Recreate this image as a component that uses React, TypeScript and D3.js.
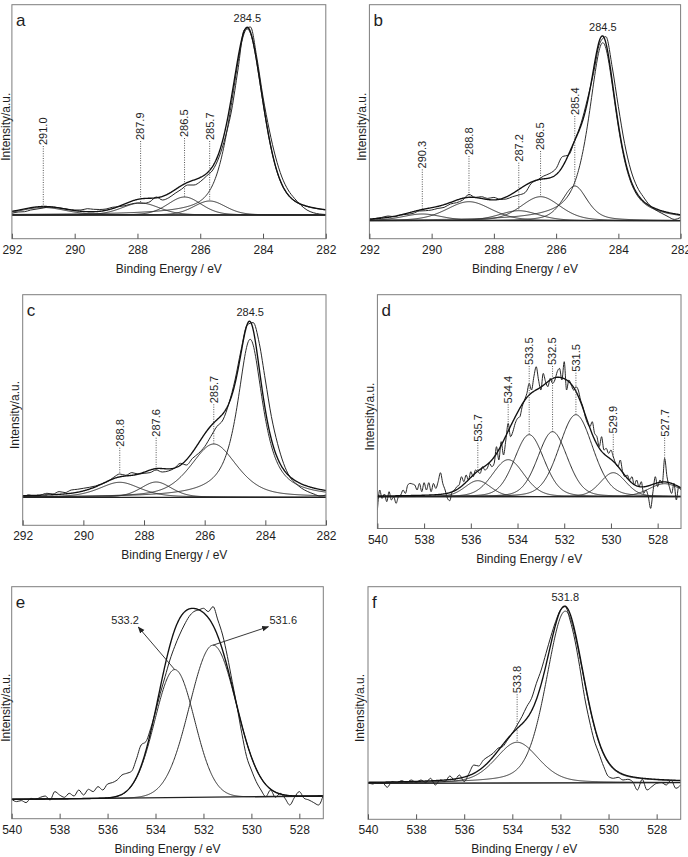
import React, { useEffect, useRef } from 'react';
import * as d3 from 'd3';

// C 1s, sample a: fitted peaks (eV, height, FWHM, Lorentzian fraction)
const aCenters = [284.5, 285.7, 286.5, 287.9, 291.0]
const aHeights = [186, 14, 18, 12, 7.5]
const aWidths = [1.2, 1.2, 1.25, 1.4, 1.7]
const aMixes = [0.5, 0.2, 0.2, 0.2, 0.2]
// measured counts, 292 -> 282 eV in 0.2 eV steps
const aRaw = [
  1.7, 3, 3.3, 5, 6, 7, 8, 7.7, 6.7, 5.7,
  5, 5, 6.3, 5.7, 5.5, 6, 7.7, 8.3, 9.3, 11,
  12, 11.7, 13.3, 18, 15, 17.3, 21.7, 25.7, 30, 30,
  33.3, 39, 45, 58, 78, 105, 145, 185, 188, 158,
  118, 85, 58, 38, 25, 16.7, 10, 5, 2.3, 1,
  0.5,
]

// C 1s, sample b
const bCenters = [284.5, 285.4, 286.5, 287.2, 288.8, 290.3]
const bHeights = [178, 34.7, 24, 10, 19, 6.7]
const bWidths = [1.05, 0.95, 1.5, 1.5, 1.7, 1.5]
const bMixes = [0.7, 0.5, 0.3, 0.3, 0.3, 0.3]
const bRaw = [
  0.7, 2.3, 3.3, 4.7, 4, 5.7, 6.3, 7.3, 9.7, 10,
  10.7, 12.3, 13.3, 16.7, 18, 20.7, 26.3, 23.3, 24, 22.3,
  23.3, 21.3, 21.7, 24, 25.7, 28, 37.3, 40.7, 44.7, 47.3,
  52.3, 64, 65.7, 80.7, 97.3, 120.7, 147.3, 177.3, 184, 154,
  114, 77.3, 50.7, 34, 24, 15.7, 10.7, 7.3, 4, 1.3,
  3.3,
]

// C 1s, sample c
const cCenters = [284.5, 285.7, 287.6, 288.8]
const cHeights = [158, 53.3, 15.3, 15]
const cWidths = [1.0, 1.8, 1.2, 1.6]
const cMixes = [0.85, 0.5, 0.3, 0.5]
const cRaw = [
  0, 2.3, 0.7, 2.3, 4, 3.3, 5.7, 4.7, 7.3, 8,
  9, 10, 11.3, 13.3, 15.7, 20, 23.3, 22, 24.7, 23.3,
  24, 24.7, 27.3, 25.3, 26.3, 29, 34, 32.3, 39, 44,
  50.7, 60.7, 70.7, 77.3, 94, 117.3, 147.3, 172.3, 174.7, 154,
  117.3, 80.7, 54, 34, 20.7, 14, 9, 5.7, 3.3, 1.3,
  2.3,
]

// O 1s, sample d; counts 540 -> 527 eV in 0.1 eV steps
const dCenters = [535.7, 534.4, 533.5, 532.5, 531.5, 529.9, 527.7]
const dHeights = [16, 37, 62, 65, 82, 24, 13]
const dWidths = [1.3, 1.6, 1.5, 1.5, 1.7, 1.3, 1.6]
const dMixes = [0.2, 0.2, 0.2, 0.2, 0.2, 0.2, 0.2]
const dRaw = [
  -13.3, 6.7, -1.7, 2.7, -5, 5, -3.3, 0, -6.7, 0,
  1.7, 6.7, 3.3, 11.7, 13.3, 12.7, 11.7, 6.7, 13.3, 5,
  14, 6.7, 14, 5, 13.3, 8.3, 15, 24, 13.3, 6.7,
  -1.7, -4, 5, 6.7, 10, 11.7, 20, 15, 21.7, 16.7,
  25, 20, 26.7, 25, 23.3, 30, 26.7, 28.3, 33.3, 30,
  33.3, 50, 36.7, 55, 41.7, 56.7, 73.3, 60, 65, 73.3,
  78.3, 80, 90, 96.7, 103.3, 113.3, 106.7, 120, 130, 116.7,
  106.7, 123.3, 115, 110, 118.3, 113.3, 116.7, 125, 128.3, 116.7,
  135, 106.7, 116.7, 111.7, 106.7, 110, 106.7, 96.7, 90, 80,
  73.3, 70, 75, 63.3, 60, 50, 60, 46.7, 48.3, 43.3,
  46.7, 40, 33.3, 30, 36.7, 25, 20, 21.7, 16.7, 20,
  11.7, 16.7, 10, 15, 3.3, 6.7, 0, -11.7, 5, 20,
  10, 16.7, 13.3, 38.3, 20, 10, 3.3, 13.3, -3.3, 10,
  6.7,
]

// O 1s, sample e; counts 540 -> 527 eV in 0.2 eV steps
const eCenters = [533.2, 531.6]
const eHeights = [128, 152]
const eWidths = [1.95, 2.3]
const eMixes = [0, 0]
const eBackground = [0, 3.3]
const eRaw = [
  0, -2.3, -1.3, -3.3, 1, 0, 2, 3.3, -0.7, 7.7,
  4.3, 2, 6, 3.3, 9.3, 4.3, 10, 7.7, 12.7, 9.3,
  15.3, 16.7, 19.3, 24.3, 26, 28, 40, 54.3, 57.7, 71,
  87.7, 106, 122.7, 139.3, 152.7, 164.3, 174.3, 182.7, 187.7, 189.3,
  191, 187.7, 192.7, 179.3, 164.3, 142.7, 117.7, 92.7, 66, 42.7,
  29.3, 17.7, 9.3, 2.7, 9.3, 2, 6, 1, -5.7, 2,
  7.7, 1, -0.7, -3.3, -5.7, 4.3,
]

// O 1s, sample f
const fCenters = [531.8, 533.8]
const fHeights = [171.7, 40.7]
const fWidths = [1.85, 2.1]
const fMixes = [0.3, 0.3]
const fBackground = [0, 0.7]
const fRaw = [
  0.7, -0.7, 0.7, 0.7, -4, 1.7, 0.7, 2.7, 0.7, 3.3,
  0.7, 3.3, 0.7, 5, -1.7, 3.3, 1.7, 7.3, 3.3, 8.3,
  1.7, 10, 18.3, 17.3, 23.3, 26.7, 30, 35, 36.7, 43.3,
  50, 58.3, 66.7, 76.7, 85, 100, 113.3, 130, 146.7, 161.7,
  173.3, 176.7, 163.3, 143.3, 116.7, 86.7, 63.3, 43.3, 30, 16.7,
  6.7, 5, 6, 3.3, 4, 1.7, -6.7, 4, -6.7, -3.3,
  0, 0.7, -1.7, 3.3, -5, -1.7,
]

const cTicks = [292, 290, 288, 286, 284, 282]
const oTicks = [540, 538, 536, 534, 532, 530, 528]

type Leader = { value: number; textAt: number; to: 'peak' | 'fit' | 'raw' }
type Arrow = { value: number; tipE: number; tipH: number; labelE: number; labelH: number }

interface PanelProps {
  letter: string
  left: number
  top: number
  right: number
  bottom: number
  xDomain: [number, number]
  yDomain: [number, number]
  ticks: number[]
  centers: number[]
  heights: number[]
  widths: number[]
  mixes: number[]
  background: number[]
  rawStart: number
  rawStep: number
  raw: number[]
  topLabel?: number
  leaders?: Leader[]
  arrows?: Arrow[]
}

const FONT = "'Liberation Sans', Arial, Helvetica, sans-serif"
const INK = '#1e1e1e'

// pseudo-Voigt line shape
const voigt = (e: number, c: number, h: number, w: number, eta: number) => {
  const r = (e - c) / w
  return h * (eta / (1 + 4 * r * r) + (1 - eta) * Math.exp(-4 * Math.LN2 * r * r))
}

const draw = (g: d3.Selection<SVGGElement, unknown, null, undefined>, p: PanelProps) => {
  g.selectAll('*').remove()

  const x = d3.scaleLinear().domain(p.xDomain).range([p.left, p.right])
  const y = d3.scaleLinear().domain(p.yDomain).range([p.bottom, p.top])

  const bg = (e: number) =>
    p.background[0] + ((p.background[1] - p.background[0]) * (e - p.xDomain[0])) / (p.xDomain[1] - p.xDomain[0])
  const comp = (i: number, e: number) => voigt(e, p.centers[i], p.heights[i], p.widths[i], p.mixes[i])
  const fit = (e: number) => bg(e) + d3.sum(p.centers, (_, i) => comp(i, e))

  const grid = d3.range(p.xDomain[0], p.xDomain[1] + 0.001, -0.02).concat([p.xDomain[1]])
  const rawPts = p.raw.map((v, i) => [p.rawStart - i * p.rawStep, v] as [number, number])

  const straight = d3.line<[number, number]>().x((d) => x(d[0])).y((d) => y(d[1]))
  const smooth = d3
    .line<[number, number]>()
    .x((d) => x(d[0]))
    .y((d) => y(d[1]))
    .curve(d3.curveMonotoneX)

  const clipId = `clip-${p.letter}`
  g.append('clipPath')
    .attr('id', clipId)
    .append('rect')
    .attr('x', p.left)
    .attr('y', p.top)
    .attr('width', p.right - p.left)
    .attr('height', p.bottom - p.top)

  const plot = g.append('g').attr('clip-path', `url(#${clipId})`).attr('fill', 'none')

  // fitted components
  p.centers.forEach((_, i) => {
    plot
      .append('path')
      .datum(grid.map((e) => [e, bg(e) + comp(i, e)] as [number, number]))
      .attr('d', straight)
      .attr('stroke', '#2e2e2e')
      .attr('stroke-width', 1)
  })

  // background line
  plot
    .append('path')
    .datum(p.xDomain.map((e) => [e, bg(e)] as [number, number]))
    .attr('d', straight)
    .attr('stroke', '#222')
    .attr('stroke-width', 1.3)

  // measured spectrum
  plot
    .append('path')
    .datum(rawPts)
    .attr('d', smooth)
    .attr('stroke', '#262626')
    .attr('stroke-width', 1)

  // envelope of the fit
  plot
    .append('path')
    .datum(grid.map((e) => [e, fit(e)] as [number, number]))
    .attr('d', straight)
    .attr('stroke', '#111')
    .attr('stroke-width', 1.35)

  // frame
  g.append('rect')
    .attr('x', p.left)
    .attr('y', p.top)
    .attr('width', p.right - p.left)
    .attr('height', p.bottom - p.top)
    .attr('fill', 'none')
    .attr('stroke', '#7d7d7d')
    .attr('stroke-width', 1)

  // x axis, ticks pointing inward
  const axis = g
    .append('g')
    .attr('transform', `translate(0,${p.bottom})`)
    .call(d3.axisBottom(x).tickValues(p.ticks).tickFormat(d3.format('d')).tickSizeInner(-5).tickSizeOuter(0).tickPadding(6.5))
  axis.select('.domain').remove()
  axis.attr('font-family', FONT).attr('font-size', 12).attr('color', '#555')
  axis.selectAll('text').attr('fill', INK)

  g.append('text')
    .attr('x', (p.left + p.right) / 2)
    .attr('y', p.bottom + 34)
    .attr('text-anchor', 'middle')
    .attr('font-size', 12)
    .attr('fill', INK)
    .text('Binding Energy / eV')

  g.append('text')
    .attr('transform', `translate(${Math.max(p.left - 8, 5.5)},${(p.top + p.bottom) / 2 + 5}) rotate(-90)`)
    .attr('text-anchor', 'middle')
    .attr('dy', '0.35em')
    .attr('font-size', 12)
    .attr('fill', INK)
    .text('Intensity/a.u.')

  g.append('text')
    .attr('x', p.left + 4)
    .attr('y', p.top + 21)
    .attr('font-size', 17)
    .attr('fill', INK)
    .text(p.letter)

  if (p.topLabel !== undefined) {
    const peakY = d3.max(grid, fit) as number
    g.append('text')
      .attr('x', x(p.topLabel))
      .attr('y', y(peakY) - 5)
      .attr('text-anchor', 'middle')
      .attr('font-size', 11)
      .attr('fill', INK)
      .text(p.topLabel.toFixed(1))
  }

  // rotated labels with dotted leaders
  ;(p.leaders || []).forEach((l) => {
    let tip = fit(l.value)
    if (l.to === 'peak') {
      const i = p.centers.indexOf(l.value)
      if (i >= 0) tip = bg(l.value) + comp(i, l.value)
    } else if (l.to === 'raw') {
      tip = p.raw[Math.round((p.rawStart - l.value) / p.rawStep)]
    }
    const xx = x(l.value)
    g.append('line')
      .attr('x1', xx)
      .attr('x2', xx)
      .attr('y1', y(l.textAt) + 1)
      .attr('y2', y(tip))
      .attr('stroke', '#444')
      .attr('stroke-width', 0.9)
      .attr('stroke-dasharray', '1,1.4')
    g.append('text')
      .attr('transform', `translate(${xx},${y(l.textAt)}) rotate(-90)`)
      .attr('dy', '0.35em')
      .attr('font-size', 11)
      .attr('fill', INK)
      .text(l.value.toFixed(1))
  })

  // arrows from component maxima to their labels
  ;(p.arrows || []).forEach((a) => {
    const i = p.centers.indexOf(a.value)
    g.append('line')
      .attr('x1', x(a.value))
      .attr('y1', y(bg(a.value) + comp(i, a.value)))
      .attr('x2', x(a.tipE))
      .attr('y2', y(a.tipH))
      .attr('stroke', '#222')
      .attr('stroke-width', 0.9)
      .attr('marker-end', 'url(#arrowHead)')
    g.append('text')
      .attr('x', x(a.labelE))
      .attr('y', y(a.labelH))
      .attr('text-anchor', 'middle')
      .attr('font-size', 11)
      .attr('fill', INK)
      .text(a.value.toFixed(1))
  })
}

const Panel = (props: PanelProps) => {
  const ref = useRef<SVGGElement>(null)
  useEffect(() => {
    if (ref.current) draw(d3.select(ref.current), props)
  })
  return <g ref={ref} />
}

const panels: PanelProps[] = [
  {
    letter: 'a', left: 11.9, top: 4.7, right: 325.8, bottom: 238.7,
    xDomain: [292, 282], yDomain: [-23.7, 210.3], ticks: cTicks,
    centers: aCenters, heights: aHeights, widths: aWidths, mixes: aMixes, background: [0, 0],
    rawStart: 292, rawStep: 0.2, raw: aRaw,
    topLabel: 284.5,
    leaders: [
      { value: 291.0, textAt: 70, to: 'peak' },
      { value: 287.9, textAt: 75, to: 'peak' },
      { value: 286.5, textAt: 78, to: 'peak' },
      { value: 285.7, textAt: 75, to: 'peak' },
    ],
  },
  {
    letter: 'b', left: 369.4, top: 4.7, right: 680.6, bottom: 238.7,
    xDomain: [292, 282], yDomain: [-18, 216], ticks: cTicks,
    centers: bCenters, heights: bHeights, widths: bWidths, mixes: bMixes, background: [0, 0],
    rawStart: 292, rawStep: 0.2, raw: bRaw,
    topLabel: 284.5,
    leaders: [
      { value: 290.3, textAt: 52.3, to: 'fit' },
      { value: 288.8, textAt: 65.7, to: 'fit' },
      { value: 287.2, textAt: 59, to: 'peak' },
      { value: 286.5, textAt: 70.7, to: 'peak' },
      { value: 285.4, textAt: 105.7, to: 'peak' },
    ],
  },
  {
    letter: 'c', left: 22.7, top: 294.7, right: 326, bottom: 525.3,
    xDomain: [292, 282], yDomain: [-28, 202.6], ticks: cTicks,
    centers: cCenters, heights: cHeights, widths: cWidths, mixes: cMixes, background: [0, 0],
    rawStart: 292, rawStep: 0.2, raw: cRaw,
    topLabel: 284.5,
    leaders: [
      { value: 288.8, textAt: 50.6, to: 'raw' },
      { value: 287.6, textAt: 60.6, to: 'raw' },
      { value: 285.7, textAt: 94, to: 'peak' },
    ],
  },
  {
    letter: 'd', left: 377.4, top: 294.7, right: 681, bottom: 528.5,
    xDomain: [540, 527], yDomain: [-31.8, 202], ticks: oTicks,
    centers: dCenters, heights: dHeights, widths: dWidths, mixes: dMixes, background: [0, 0],
    rawStart: 540, rawStep: 0.1, raw: dRaw,
    leaders: [
      { value: 535.7, textAt: 55, to: 'raw' },
      { value: 534.4, textAt: 93.3, to: 'raw' },
      { value: 533.5, textAt: 131.7, to: 'peak' },
      { value: 532.5, textAt: 131.7, to: 'peak' },
      { value: 531.5, textAt: 125, to: 'peak' },
      { value: 529.9, textAt: 63.3, to: 'raw' },
      { value: 527.7, textAt: 60, to: 'raw' },
    ],
  },
  {
    letter: 'e', left: 11.7, top: 586.7, right: 323.3, bottom: 818.7,
    xDomain: [540, 527], yDomain: [-19.4, 212.6], ticks: oTicks,
    centers: eCenters, heights: eHeights, widths: eWidths, mixes: eMixes, background: eBackground,
    rawStart: 540, rawStep: 0.2, raw: eRaw,
    arrows: [
      { value: 533.2, tipE: 534.72, tipH: 172.3, labelE: 535.27, labelH: 175.3 },
      { value: 531.6, tipE: 529.29, tipH: 172.6, labelE: 528.67, labelH: 175.3 },
    ],
  },
  {
    letter: 'f', left: 368, top: 586.7, right: 680.7, bottom: 819.3,
    xDomain: [540, 527], yDomain: [-36, 196.6], ticks: oTicks,
    centers: fCenters, heights: fHeights, widths: fWidths, mixes: fMixes, background: fBackground,
    rawStart: 540, rawStep: 0.2, raw: fRaw,
    topLabel: 531.8,
    leaders: [{ value: 533.8, textAt: 90, to: 'peak' }],
  },
]

export default function App() {
  return (
    <svg
      width={688}
      height={857}
      style={{ position: 'absolute', left: 0, top: 0, background: '#fff' }}
      fontFamily={FONT}
    >
      <defs>
        <marker
          id="arrowHead"
          viewBox="0 0 10 10"
          refX={9}
          refY={5}
          markerWidth={7}
          markerHeight={7}
          markerUnits="userSpaceOnUse"
          orient="auto"
        >
          <path d="M0,1 L10,5 L0,9 z" fill="#222" />
        </marker>
      </defs>
      {panels.map((p) => (
        <Panel key={p.letter} {...p} />
      ))}
    </svg>
  )
}
